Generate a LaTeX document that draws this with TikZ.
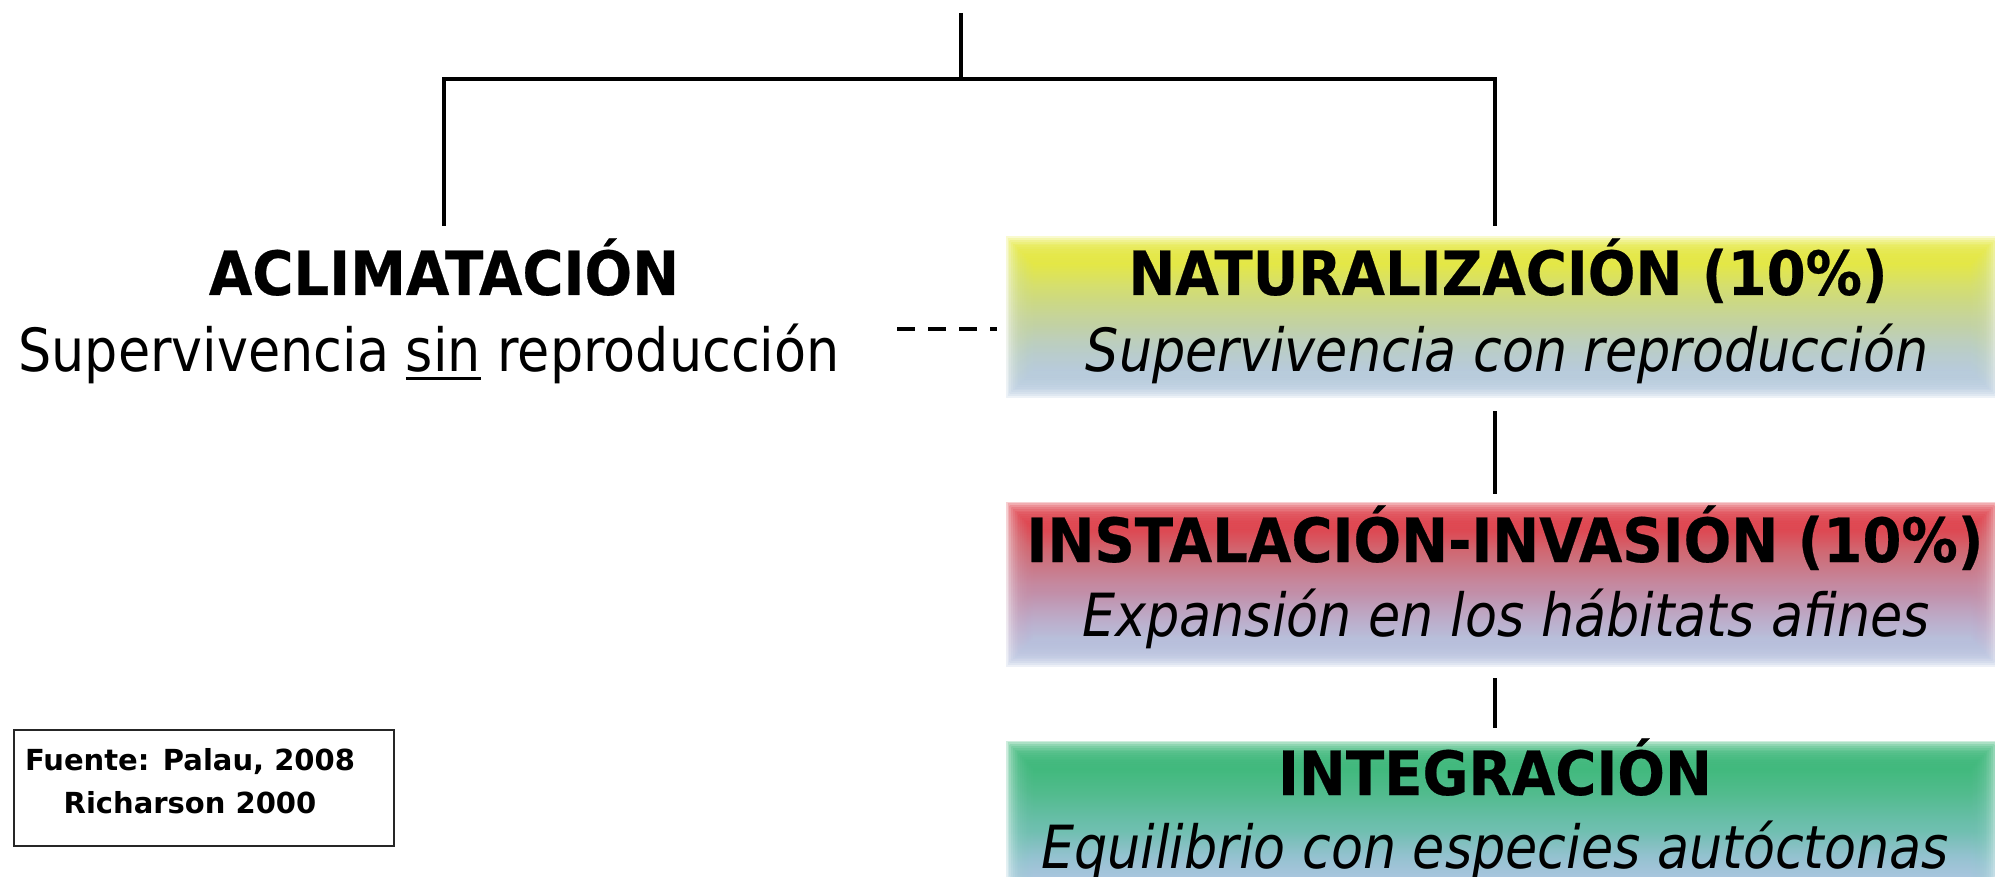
\documentclass[tikz,border=0pt]{standalone}
\usepackage{fontspec}
\setmainfont{DejaVu Sans}[FakeStretch=0.88]
\newfontfamily\headfont{DejaVu Sans}[FakeStretch=0.92, FakeBold=0.4]
\newfontfamily\srcfont{DejaVu Sans}
\definecolor{blueb}{RGB}{182,202,230}
\definecolor{yel}{RGB}{232,235,60}
\definecolor{Ya}{RGB}{185,205,200}
\definecolor{Yb}{RGB}{195,210,160}
\definecolor{Yc}{RGB}{215,225,110}
\definecolor{redc}{RGB}{226,62,72}
\definecolor{Ra}{RGB}{188,170,200}
\definecolor{Rb}{RGB}{195,140,165}
\definecolor{Rc}{RGB}{210,105,115}
\definecolor{grn}{RGB}{62,184,122}
\definecolor{Ga}{RGB}{150,196,210}
\definecolor{Gb}{RGB}{110,190,175}
\definecolor{Gc}{RGB}{80,186,140}
\pgfdeclareverticalshading{natshade}{100bp}{color(0bp)=(blueb); color(23bp)=(blueb); color(36bp)=(Ya); color(48bp)=(Yb); color(64bp)=(Yc); color(76bp)=(yel); color(100bp)=(yel)}
\pgfdeclareverticalshading{instshade}{100bp}{color(0bp)=(blueb); color(23bp)=(blueb); color(36bp)=(Ra); color(48bp)=(Rb); color(64bp)=(Rc); color(76bp)=(redc); color(100bp)=(redc)}
\pgfdeclareverticalshading{integshade}{100bp}{color(0bp)=(blueb); color(23bp)=(blueb); color(36bp)=(Ga); color(48bp)=(Gb); color(64bp)=(Gc); color(76bp)=(grn); color(100bp)=(grn)}
\newcommand\softbox[5]{%
  \foreach \i in {0,...,15}{%
    \shade[shading=#1, fill opacity=0.25] (#2+1.8*\i,#3+1.8*\i) rectangle (#4-1.8*\i,#5-1.8*\i);}}
\newcommand\myul[1]{\vtop{\hbox{#1}\kern5pt\hrule height 3.5pt}}
\tikzset{
  head/.style={anchor=base, inner sep=0pt, font=\headfont\bfseries\fontsize{61}{70}\selectfont},
  sub/.style={anchor=base, inner sep=0pt, font=\fontsize{59.5}{68}\selectfont},
  subit/.style={anchor=base, inner sep=0pt, font=\fontsize{59.5}{68}\selectfont\itshape},
  src/.style={anchor=base, inner sep=0pt, font=\srcfont\bfseries\fontsize{29}{35}\selectfont},
  conn/.style={line width=4pt, black},
}
\begin{document}
\begin{tikzpicture}[x=1pt,y=-1pt]
\useasboundingbox (0,0) rectangle (1995,877);
\clip (0,0) rectangle (1995,877);
% soft coloured boxes
\softbox{natshade}{1006}{237}{1998}{397}
\softbox{instshade}{1006}{502}{1998}{666}
\softbox{integshade}{1006}{741}{1998}{907}
% texts
\node[head] (aclim) at (444,295) {ACLIMATACIÓN};
\node[sub] (aclimsub) at (429,371) {Supervivencia \myul{sin} reproducción};
\node[head] (nat) at (1508,295) {NATURALIZACIÓN (10\%)};
\node[subit] (natsub) at (1507,371) {Supervivencia con reproducción};
\node[head] (inst) at (1505,562) {INSTALACIÓN-INVASIÓN (10\%)};
\node[subit] (instsub) at (1506,636) {Expansión en los hábitats afines};
\node[head] (integ) at (1495,795) {INTEGRACIÓN};
\node[subit] (integsub) at (1495,868) {Equilibrio con especies autóctonas};
% source box
\node[draw=black!85, line width=2pt, minimum width=380pt, minimum height=116pt, inner sep=0pt, anchor=north west] (srcbox) at (13,729) {};
\node[src] (src1) at (190,770) {Fuente: Palau, 2008};
\node[src] (src2) at (190,813) {Richarson 2000};
% connectors
\coordinate (top) at (961,13);
\coordinate (j) at (961,79);
\coordinate (jl) at (444,79);
\coordinate (jr) at (1495,79);
\coordinate (al) at (444,226);
\coordinate (ar) at (1495,226);
\draw[conn] (top) -- (j);
\draw[conn] (al) -- (jl) -- (jr) -- (ar);
\coordinate (d1) at (897,329);
\coordinate (d2) at (997,329);
\draw[conn, dash pattern=on 18pt off 13pt] (d1) -- (d2);
\coordinate (v1a) at (1495,411);
\coordinate (v1b) at (1495,494);
\draw[conn] (v1a) -- (v1b);
\coordinate (v2a) at (1495,678);
\coordinate (v2b) at (1495,728);
\draw[conn] (v2a) -- (v2b);
\end{tikzpicture}
\end{document}
